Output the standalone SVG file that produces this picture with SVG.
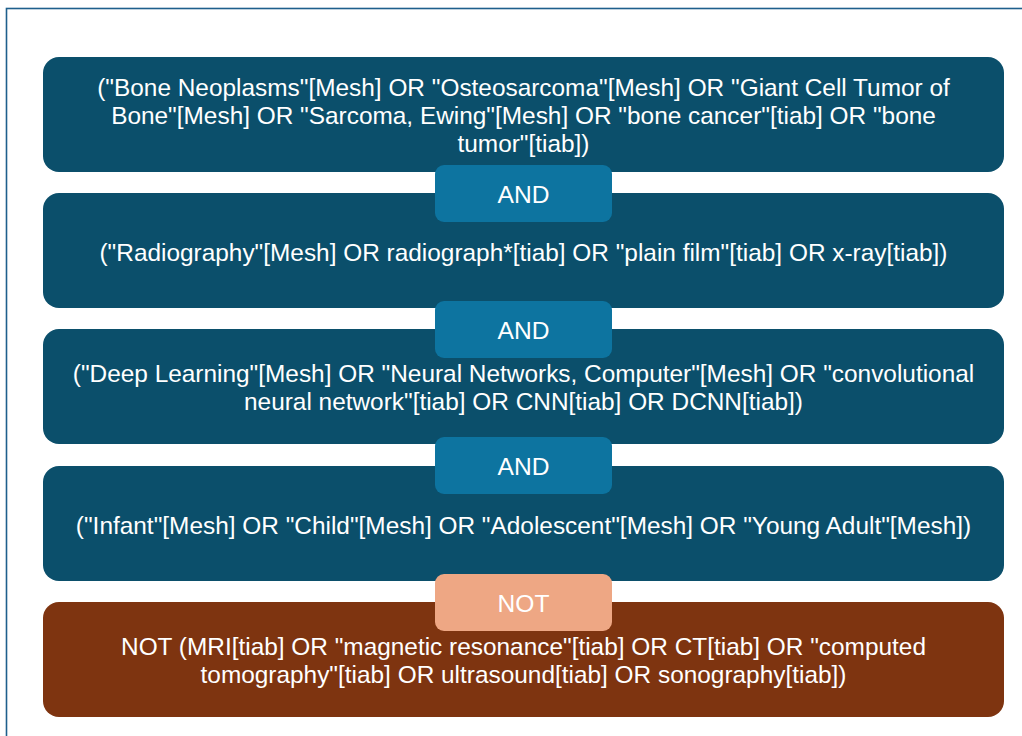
<svg xmlns="http://www.w3.org/2000/svg" width="1022" height="736" viewBox="0 0 1022 736">
<style>
.box{fill:#0b4f6b}
.not{fill:#7e3410}
.and{fill:#0d74a0}
.notb{fill:#eea784}
text{font-family:"Liberation Sans",Arial,Helvetica,sans-serif;fill:#ffffff;text-anchor:middle;dominant-baseline:central}
.t{font-size:24.4px}
.b{font-size:24.6px}
</style>
<rect x="0" y="0" width="1022" height="736" fill="#ffffff"/>
<rect x="6.5" y="8.5" width="1030" height="740" fill="none" stroke="#1e5f8c" stroke-width="1.6"/>
<g id="node1">
<rect class="box" x="43" y="57" width="961" height="115" rx="16"/>
<text class="t" x="523.5" y="87">("Bone Neoplasms"[Mesh] OR "Osteosarcoma"[Mesh] OR "Giant Cell Tumor of</text>
<text class="t" x="523.5" y="115">Bone"[Mesh] OR "Sarcoma, Ewing"[Mesh] OR "bone cancer"[tiab] OR "bone</text>
<text class="t" x="523.5" y="143">tumor"[tiab])</text>
</g>
<g id="node2">
<rect class="box" x="43" y="193" width="961" height="115" rx="16"/>
<text class="t" x="523.5" y="252">("Radiography"[Mesh] OR radiograph*[tiab] OR "plain film"[tiab] OR x-ray[tiab])</text>
</g>
<g id="node3">
<rect class="box" x="43" y="329" width="961" height="115" rx="16"/>
<text class="t" x="523.5" y="373">("Deep Learning"[Mesh] OR "Neural Networks, Computer"[Mesh] OR "convolutional</text>
<text class="t" x="523.5" y="401">neural network"[tiab] OR CNN[tiab] OR DCNN[tiab])</text>
</g>
<g id="node4">
<rect class="box" x="43" y="466" width="961" height="115" rx="16"/>
<text class="t" x="523.5" y="525">("Infant"[Mesh] OR "Child"[Mesh] OR "Adolescent"[Mesh] OR "Young Adult"[Mesh])</text>
</g>
<g id="node5">
<rect class="not" x="43" y="602" width="961" height="115" rx="16"/>
<text class="t" x="523.5" y="646">NOT (MRI[tiab] OR "magnetic resonance"[tiab] OR CT[tiab] OR "computed</text>
<text class="t" x="523.5" y="674">tomography"[tiab] OR ultrasound[tiab] OR sonography[tiab])</text>
</g>
<g id="connectors">
<g id="and1"><rect class="and" x="435" y="165" width="177" height="57" rx="9"/><text class="b" x="523.5" y="194">AND</text></g>
<g id="and2"><rect class="and" x="435" y="301" width="177" height="57" rx="9"/><text class="b" x="523.5" y="330">AND</text></g>
<g id="and3"><rect class="and" x="435" y="437" width="177" height="57" rx="9"/><text class="b" x="523.5" y="466">AND</text></g>
<g id="not1"><rect class="notb" x="435" y="574" width="177" height="57" rx="9"/><text class="b" x="523.5" y="603">NOT</text></g>
</g>
</svg>
